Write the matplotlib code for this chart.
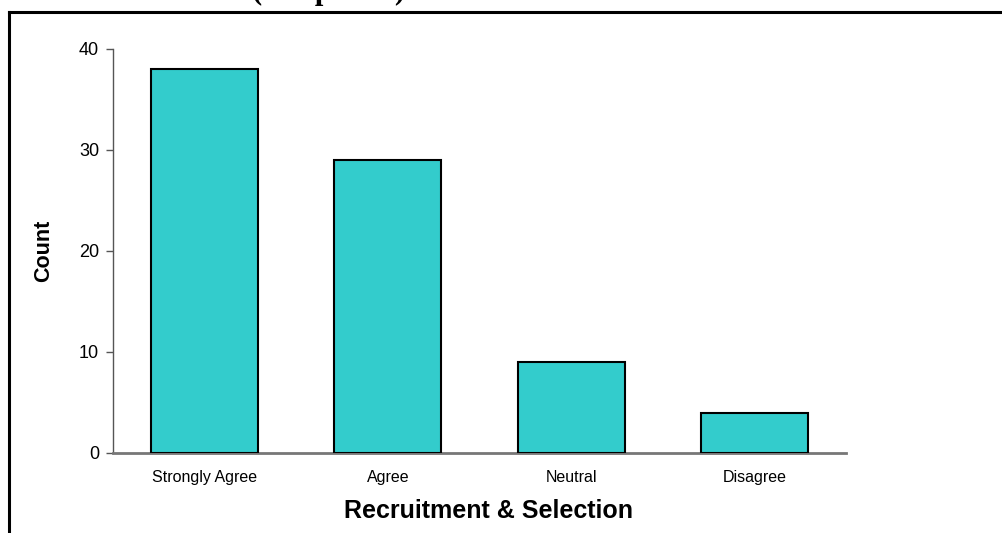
import matplotlib.pyplot as plt
from matplotlib.lines import Line2D

categories = ['Strongly Agree', 'Agree', 'Neutral', 'Disagree']
counts = [38, 29, 9, 4]
y_ticks = [0, 10, 20, 30, 40]

plt.rcParams['font.family'] = ['Liberation Sans', 'DejaVu Sans']

fig = plt.figure(figsize=(10.02, 5.33), dpi=100)
ax = fig.add_axes([0.1128, 0.1501, 0.7315, 0.758])

ax.bar(range(len(categories)), counts, width=0.585, color='#33CCCC',
       edgecolor='black', linewidth=1.5, zorder=3)

ax.set_xlim(-0.5, 3.5)
ax.set_ylim(0, 40)
ax.set_yticks(y_ticks)
ax.set_xticks(range(len(categories)))
ax.set_xticklabels(categories, fontsize=11.5)
ax.tick_params(axis='y', length=5, width=1, color='#555555', labelsize=13, pad=5)
ax.tick_params(axis='x', length=0, pad=12)

for side in ['top', 'right']:
    ax.spines[side].set_visible(False)
ax.spines['left'].set_color('#555555')
ax.spines['left'].set_linewidth(1)
ax.spines['bottom'].set_color('#777777')
ax.spines['bottom'].set_linewidth(2)

ax.set_ylabel('Count', fontsize=15.5, fontweight='bold')
ax.yaxis.set_label_coords(-0.08, 0.5)
ax.set_xlabel('Recruitment & Selection', fontsize=18, fontweight='bold')
ax.xaxis.set_label_coords(0.512, -0.115)

# page frame around the chart
fig.add_artist(Line2D([0.009, 1.0], [1 - 12 / 533, 1 - 12 / 533], color='black', lw=2.2))
fig.add_artist(Line2D([0.009, 0.009], [0.0, 1 - 12 / 533], color='black', lw=2.2))

# caption above the frame, mostly off the page
fig.text(0.328, 1 + 1 / 533, '(Graph 4.6)', family='Liberation Serif', fontweight='bold',
         fontsize=22, ha='center', va='baseline')

fig.savefig('out.png', dpi=100)
